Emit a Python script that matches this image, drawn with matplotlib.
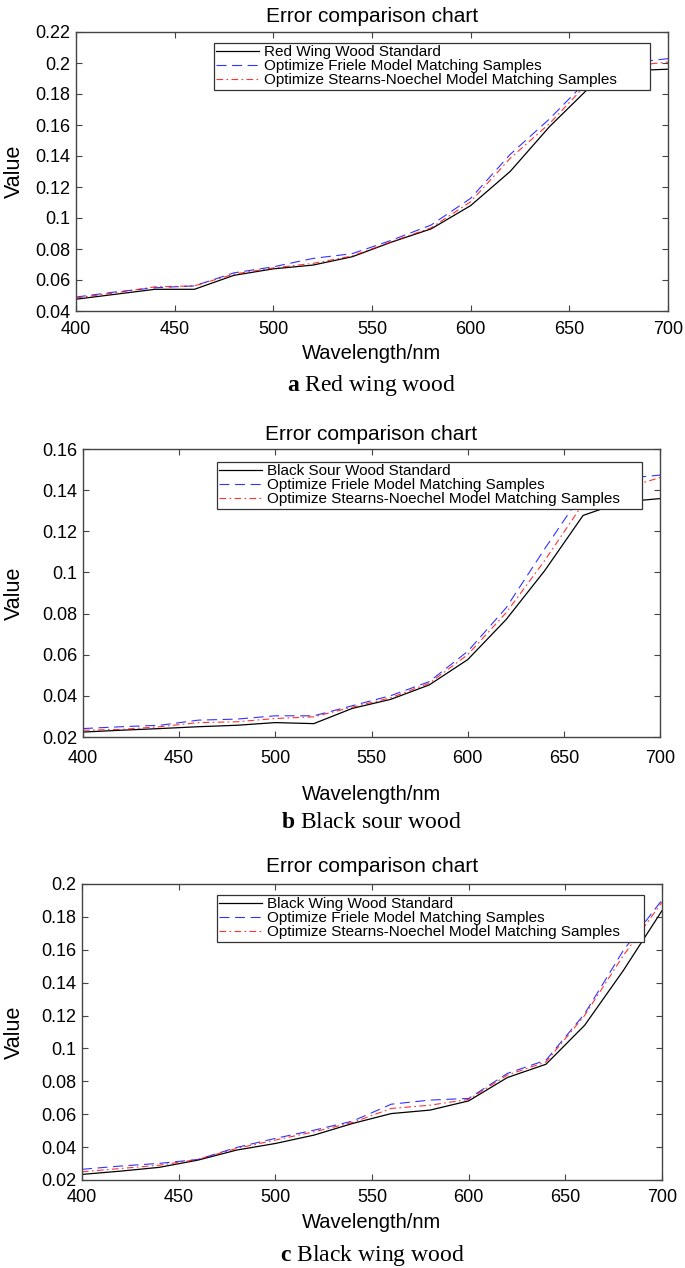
import matplotlib
matplotlib.use("Agg")
import matplotlib.pyplot as plt

plt.rcParams['font.family'] = ['Liberation Sans', 'DejaVu Sans']
plt.rcParams['mathtext.fontset'] = 'custom'
plt.rcParams['mathtext.rm'] = 'Liberation Serif'
plt.rcParams['mathtext.bf'] = 'Liberation Serif:bold'

wavelength = [400, 420, 440, 460, 480, 500, 520, 540, 560, 580, 600, 620, 640, 660, 680, 700]

# a - red wing wood
red_std = [0.0476, 0.0508, 0.054, 0.054, 0.063, 0.0672, 0.0696, 0.075, 0.0845, 0.093, 0.108, 0.130, 0.159, 0.184, 0.195, 0.196]
red_friele = [0.049, 0.0523, 0.055, 0.0562, 0.0646, 0.0685, 0.0739, 0.077, 0.0857, 0.0955, 0.1127, 0.141, 0.164, 0.190, 0.200, 0.2028]
red_sn = [0.0484, 0.0517, 0.0556, 0.0562, 0.0638, 0.0678, 0.0707, 0.0755, 0.0847, 0.0937, 0.1105, 0.1385, 0.161, 0.188, 0.198, 0.2006]

# b - black sour wood
sour_std = [0.0224, 0.0233, 0.0241, 0.025, 0.0257, 0.027, 0.0265, 0.0339, 0.0383, 0.0453, 0.0576, 0.0771, 0.1008, 0.1277, 0.1342, 0.1359]
sour_friele = [0.0241, 0.025, 0.0257, 0.0282, 0.0287, 0.0303, 0.0303, 0.0352, 0.0401, 0.0469, 0.0616, 0.0828, 0.1114, 0.139, 0.1456, 0.1473]
sour_sn = [0.0233, 0.0237, 0.025, 0.027, 0.0274, 0.029, 0.0298, 0.0345, 0.0391, 0.0461, 0.060, 0.0804, 0.1057, 0.1334, 0.1405, 0.1461]

# c - black wing wood
bwing_std = [0.0234, 0.0254, 0.0277, 0.0321, 0.0382, 0.0422, 0.0473, 0.0544, 0.0604, 0.0625, 0.0681, 0.0823, 0.0904, 0.1141, 0.1474, 0.1838]
bwing_friele = [0.0265, 0.0285, 0.0301, 0.0325, 0.0398, 0.0453, 0.0503, 0.0558, 0.0661, 0.0686, 0.0696, 0.0848, 0.0929, 0.1211, 0.1596, 0.1903]
bwing_sn = [0.025, 0.027, 0.029, 0.0325, 0.0392, 0.0443, 0.0493, 0.055, 0.0635, 0.0655, 0.069, 0.0838, 0.0918, 0.1201, 0.1565, 0.1889]

panels = [
    dict(std=red_std, fr=red_friele, sn=red_sn, name="Red Wing Wood Standard",
         letter="a", caption="Red wing wood", ylim=(0.04, 0.22),
         box=(76, 32, 668, 311), leg=(214, 43, 650, 91),
         title_y=16, tick_y=330, xlab_y=353, cap_y=386),
    dict(std=sour_std, fr=sour_friele, sn=sour_sn, name="Black Sour Wood Standard",
         letter="b", caption="Black sour wood", ylim=(0.02, 0.16),
         box=(83, 449, 660, 737), leg=(217, 462, 642, 506),
         title_y=435, tick_y=759, xlab_y=794, cap_y=823),
    dict(std=bwing_std, fr=bwing_friele, sn=bwing_sn, name="Black Wing Wood Standard",
         letter="c", caption="Black wing wood", ylim=(0.02, 0.2),
         box=(82, 884, 662, 1180), leg=(217, 895, 644, 940),
         title_y=867, tick_y=1198, xlab_y=1222, cap_y=1256),
]

W, H = 685, 1268
fig = plt.figure(figsize=(W / 100, H / 100), dpi=100)

def fx(px):
    return px / W

def fy(py):
    return 1 - py / H

for p in panels:
    l, t, r, b = p['box']
    ax = fig.add_axes([fx(l), fy(b), fx(r) - fx(l), fy(t) - fy(b)])
    ax.plot(wavelength, p['std'], color='k', lw=0.9, label=p['name'])
    ax.plot(wavelength, p['fr'], color='b', lw=0.8, dashes=(9, 5), alpha=0.8,
            label="Optimize Friele Model Matching Samples")
    ax.plot(wavelength, p['sn'], color='r', lw=0.8, dashes=(6, 3, 1.5, 3), alpha=0.8,
            label="Optimize Stearns-Noechel Model Matching Samples")
    ax.set_xlim(400, 700)
    ax.set_ylim(*p['ylim'])
    ax.set_xticks(range(400, 701, 50))
    lo, hi = p['ylim']
    yt = [round(lo + 0.02 * i, 2) for i in range(int(round((hi - lo) / 0.02)) + 1)]
    ax.set_yticks(yt)
    ax.set_yticklabels([f"{v:g}" for v in yt])
    pad_px = p['tick_y'] - b - 9
    ax.tick_params(direction='in', top=True, right=True, length=4, width=0.8,
                   color='#444444', labelsize=13)
    ax.tick_params(axis='x', pad=pad_px * 72 / 100)
    ax.tick_params(axis='y', pad=4)
    for s in ax.spines.values():
        s.set_color('#444444')
        s.set_linewidth(1.0)

    ll, lt, lr, lb = p['leg']
    leg = ax.legend(loc='upper left', mode='expand',
                    bbox_to_anchor=(fx(ll), fy(lb), fx(lr) - fx(ll), fy(lt) - fy(lb)),
                    bbox_transform=fig.transFigure, fontsize=11, frameon=True,
                    fancybox=False, edgecolor='#333333', framealpha=1,
                    borderpad=0.15, labelspacing=0.0, handlelength=2.8,
                    handletextpad=0.3, borderaxespad=0)
    leg.get_frame().set_linewidth(0.9)

    cx = (l + r) / 2
    fig.text(fx(cx), fy(p['title_y']), "Error comparison chart", ha='center', va='center', fontsize=15)
    fig.text(fx(cx), fy(p['xlab_y']), "Wavelength/nm", ha='center', va='center', fontsize=14.5)
    fig.text(fx(14), fy((t + b) / 2), "Value", ha='center', va='center', rotation=90, fontsize=15.5)
    fig.text(fx(cx), fy(p['cap_y']), r"$\mathbf{" + p['letter'] + r"}$ " + p['caption'],
             ha='center', va='center', fontsize=17, family='Liberation Serif')

fig.savefig("out.png", dpi=100)
